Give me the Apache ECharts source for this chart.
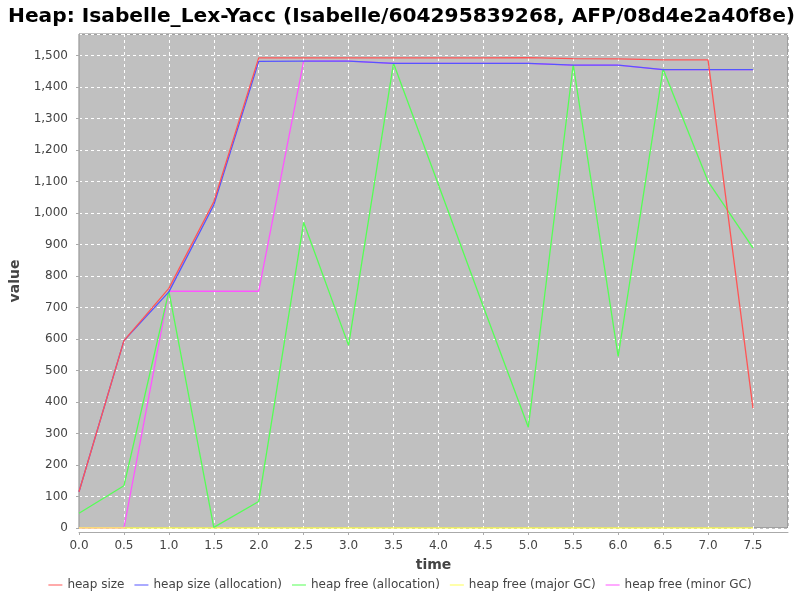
<!DOCTYPE html>
<html>
<head>
<meta charset="utf-8">
<script src="https://cdn.jsdelivr.net/npm/echarts@6/dist/echarts.min.js"></script>
<style>html,body{margin:0;padding:0;background:#fff;}#c{width:800px;height:600px;}</style>
</head>
<body>
<div id="c"></div>
<script>
const times = [0, 0.5, 1.0, 1.5, 2.0, 2.5, 3.0, 3.5, 4.0, 4.5, 5.0, 5.5, 6.0, 6.5, 7.0, 7.5];
const heapSize = [115, 595, 761, 1036, 1493, 1493, 1493, 1493, 1493, 1493, 1494, 1491, 1490, 1487, 1487, 381];
const heapSizeAlloc = [115, 595, 750, 1026, 1482, 1483, 1483, 1476, 1476, 1476, 1476, 1470, 1470, 1456, 1456, 1456];
const heapFreeAlloc = [47, 134, 752, 2, 84, 971, 580, 1476, 1090, 703, 320, 1472, 545, 1458, 1101, 890];
const heapFreeMajor = [0, 0, 0, 0, 0, 0, 0, 0, 0, 0, 0, 0, 0, 0, 0, 0];
const heapFreeMinor = [0, 0, 752, 752, 752, 1483, 1483, 1476, 1476, 1476, 1476, 1470, 1470, 1456, 1456, 1456];
const seriesNames = ['heap size', 'heap size (allocation)', 'heap free (allocation)', 'heap free (major GC)', 'heap free (minor GC)'];
const seriesColors = ['#ff5555', '#5555ff', '#55ff55', '#ffff55', '#ff55ff'];
const seriesValues = [heapSize, heapSizeAlloc, heapFreeAlloc, heapFreeMajor, heapFreeMinor];

const chart = echarts.init(document.getElementById('c'), null, {renderer: 'canvas'});
const font = 'DejaVu Sans';
chart.setOption({
  animation: false,
  backgroundColor: '#ffffff',
  title: {
    text: 'Heap: Isabelle_Lex-Yacc (Isabelle/604295839268, AFP/08d4e2a40f8e)',
    left: 3, top: 2,
    textStyle: {fontFamily: font, fontWeight: 'bold', fontSize: 20.2, color: '#000'}
  },
  legend: {
    bottom: 4, left: 'center',
    icon: 'rect', itemWidth: 14, itemHeight: 1, itemGap: 10,
    textStyle: {fontFamily: font, fontSize: 12, color: '#444'},
    data: seriesNames
  },
  grid: {
    left: 79, right: 12, top: 34, bottom: 72,
    show: true, backgroundColor: '#c0c0c0', borderColor: '#808080', borderWidth: 1
  },
  xAxis: {
    type: 'value', min: 0, max: 7.89, interval: 0.5,
    name: 'time', nameLocation: 'middle', nameGap: 26,
    nameTextStyle: {fontFamily: font, fontWeight: 'bold', fontSize: 14, color: '#444'},
    offset: 4,
    axisLine: {show: true, onZero: false, lineStyle: {color: '#aaaaaa'}},
    axisTick: {show: true, length: 3, lineStyle: {color: '#aaaaaa'}},
    axisLabel: {fontFamily: font, fontSize: 12, color: '#444', showMaxLabel: false,
      formatter: v => v.toFixed(1)},
    splitLine: {show: true, lineStyle: {color: '#ffffff', type: [3, 3], width: 1}}
  },
  yAxis: {
    type: 'value', min: 0, max: 1569, interval: 100,
    name: 'value', nameLocation: 'middle', nameGap: 46, nameRotate: 90,
    nameTextStyle: {fontFamily: font, fontWeight: 'bold', fontSize: 14, color: '#444'},
    offset: 3,
    axisLine: {show: true, lineStyle: {color: '#aaaaaa'}},
    axisTick: {show: true, length: 3, lineStyle: {color: '#aaaaaa'}},
    axisLabel: {fontFamily: font, fontSize: 12, color: '#444', showMaxLabel: false,
      formatter: v => v.toLocaleString('en-US')},
    splitLine: {show: true, lineStyle: {color: '#ffffff', type: [3, 3], width: 1}}
  },
  series: seriesNames.map((name, i) => ({
    name: name, type: 'line', symbol: 'none',
    z: 2 + (seriesNames.length - i),
    color: seriesColors[i],
    lineStyle: {width: 1.3, color: seriesColors[i]},
    emphasis: {disabled: true},
    data: times.map((t, j) => [t, seriesValues[i][j]])
  }))
});
</script>
</body>
</html>
